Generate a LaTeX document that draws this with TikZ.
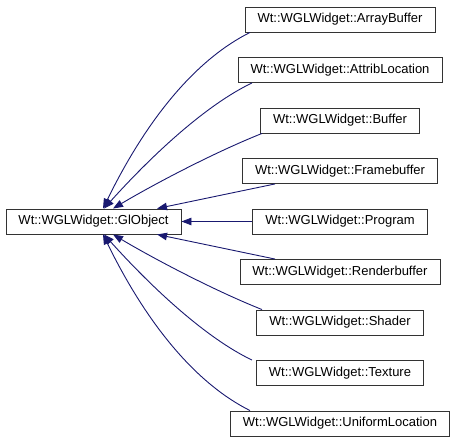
\documentclass[tikz,border=0pt]{standalone}
\usepackage{fontspec}
\setmainfont{Liberation Sans}
\usetikzlibrary{arrows.meta}
\definecolor{edgeblue}{RGB}{25,25,112}
\tikzstyle{cls} = [rectangle,
minimum height=25pt,
inner xsep=12.5pt,
text centered,
draw=black!80,
line width=0.9pt,
fill=white,
font=\fontsize{13pt}{15pt}\selectfont]
\tikzstyle{arrow} = [draw=edgeblue, line width=0.9pt, -{Triangle[length=10pt,width=7.5pt]}]

\begin{document}
\begin{tikzpicture}[x=1pt, y=-1pt, node distance=50.5pt]
        \useasboundingbox (0,0) rectangle (455,443);
        \node (prog) [cls] at (340,221.5) {Wt::WGLWidget::Program};
        \node (fbuf) [cls, above of=prog] {Wt::WGLWidget::Framebuffer};
        \node (buf) [cls, above of=fbuf] {Wt::WGLWidget::Buffer};
        \node (attr) [cls, above of=buf] {Wt::WGLWidget::AttribLocation};
        \node (abuf) [cls, above of=attr] {Wt::WGLWidget::ArrayBuffer};
        \node (rbuf) [cls, below of=prog] {Wt::WGLWidget::Renderbuffer};
        \node (shader) [cls, below of=rbuf] {Wt::WGLWidget::Shader};
        \node (tex) [cls, below of=shader] {Wt::WGLWidget::Texture};
        \node (uloc) [cls, below of=tex] {Wt::WGLWidget::UniformLocation};
        \node (glo) [cls, left of=prog, xshift=-196pt] {Wt::WGLWidget::GlObject};
        % upper children
        \draw [arrow] ([xshift=-90pt]abuf.south) .. controls +(-54,27) and +(44,-90) .. ([xshift=9.5pt]glo.north);
        \draw [arrow] ([xshift=-88pt]attr.south) .. controls +(-45,21.5) and +(50,-55.5) .. ([xshift=10.5pt]glo.north);
        \draw [arrow] ([xshift=-78pt]buf.south) .. controls +(-46.5,18.5) and +(43,-25.5) .. ([xshift=19.5pt]glo.north);
        \draw [arrow] ([xshift=-65pt]fbuf.south) -- ([xshift=63.5pt]glo.north);
        \draw [arrow] (prog.west) -- (glo.east);
        % lower children
        \draw [arrow] ([xshift=-65pt]rbuf.north) -- ([xshift=63.5pt]glo.south);
        \draw [arrow] ([xshift=-78pt]shader.north) .. controls +(-46.5,-18.5) and +(43,25.5) .. ([xshift=19.5pt]glo.south);
        \draw [arrow] ([xshift=-88pt]tex.north) .. controls +(-45,-21.5) and +(50,55.5) .. ([xshift=10.5pt]glo.south);
        \draw [arrow] ([xshift=-90pt]uloc.north) .. controls +(-54,-27) and +(44,90) .. ([xshift=9.5pt]glo.south);
    \end{tikzpicture}
\end{document}
